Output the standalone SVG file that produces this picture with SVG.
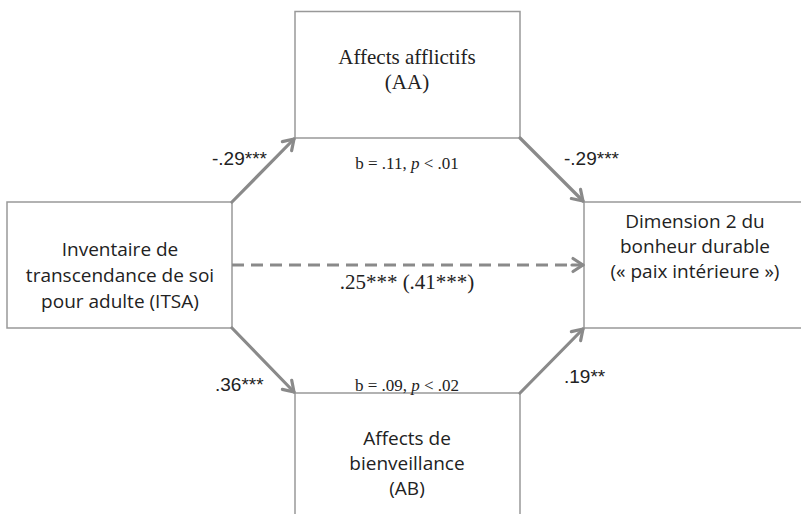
<svg xmlns="http://www.w3.org/2000/svg" width="801" height="514" viewBox="0 0 801 514">
<defs>
<style>
.box{fill:#fff;stroke:#999;stroke-width:1.5}
.arr{fill:none;stroke:#8a8a8a;stroke-width:3.2;stroke-linecap:round}
.dash{fill:none;stroke:#8a8a8a;stroke-width:3.2;stroke-dasharray:12 7}
.sans{font-family:"Open Sans",Lato,"Liberation Sans",sans-serif;font-size:19px;fill:#222;text-anchor:middle}
.serif{font-family:"Liberation Serif","DejaVu Serif",serif;fill:#222;text-anchor:middle}
.coef{font-family:"Liberation Sans",Arial,sans-serif;font-size:19px;fill:#222}
</style>
<marker id="ah" markerUnits="userSpaceOnUse" markerWidth="18" markerHeight="18" viewBox="-14 -9 18 18" refX="0" refY="0" orient="auto">
<path d="M-10,-6.5 L0,0 L-10,6.5" fill="none" stroke="#8a8a8a" stroke-width="3.2" stroke-linecap="round" stroke-linejoin="round"/>
</marker>
</defs>
<rect width="801" height="514" fill="#fff"/>
<g id="node-AA">
<rect class="box" x="295" y="11.5" width="225" height="126.5"/>
<text class="serif" x="407" y="64" font-size="21">Affects afflictifs</text>
<text class="serif" x="407" y="89" font-size="21">(AA)</text>
</g>
<g id="node-ITSA">
<rect class="box" x="7" y="202" width="225" height="126"/>
<text class="sans" x="120" y="256">Inventaire de</text>
<text class="sans" x="120" y="282">transcendance de soi</text>
<text class="sans" x="120" y="308">pour adulte (ITSA)</text>
</g>
<g id="node-D2">
<rect class="box" x="584" y="202" width="240" height="126"/>
<text class="sans" x="695" y="228">Dimension 2 du</text>
<text class="sans" x="695" y="253">bonheur durable</text>
<text class="sans" x="695" y="278">(« paix intérieure »)</text>
</g>
<g id="node-AB">
<rect class="box" x="295" y="393" width="225" height="140"/>
<text class="sans" x="407" y="445">Affects de</text>
<text class="sans" x="407" y="470">bienveillance</text>
<text class="sans" x="407" y="495">(AB)</text>
</g>
<g id="connectors">
<line class="arr" x1="232" y1="202" x2="294" y2="139" marker-end="url(#ah)"/>
<line class="arr" x1="520" y1="138" x2="583" y2="201" marker-end="url(#ah)"/>
<line class="arr" x1="232" y1="328" x2="294" y2="392" marker-end="url(#ah)"/>
<line class="arr" x1="520" y1="393" x2="583" y2="329" marker-end="url(#ah)"/>
<line class="dash" x1="232" y1="265" x2="570" y2="265"/>
<line class="arr" x1="572" y1="265" x2="583" y2="265" marker-end="url(#ah)"/>
</g>
<g id="labels">
<text class="coef" x="212" y="165">-.29***</text>
<text class="coef" x="564" y="165">-.29***</text>
<text class="coef" x="215" y="391">.36***</text>
<text class="coef" x="564" y="383">.19**</text>
<text class="serif" x="407" y="169" font-size="17">b = .11, <tspan font-style="italic">p</tspan> &lt; .01</text>
<text class="serif" x="407" y="391" font-size="17">b = .09, <tspan font-style="italic">p</tspan> &lt; .02</text>
<text class="serif" x="407" y="289" font-size="21">.25*** (.41***)</text>
</g>
</svg>
